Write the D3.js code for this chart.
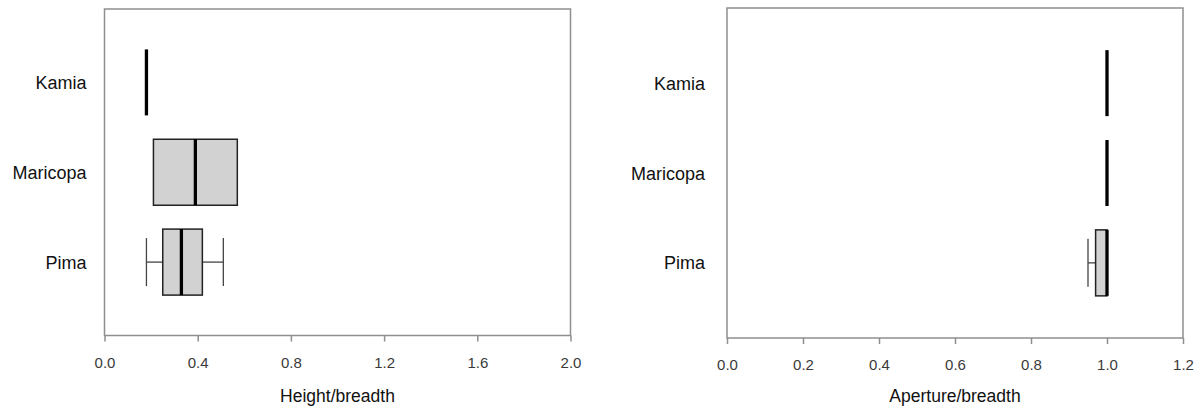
<!DOCTYPE html>
<html>
<head>
<meta charset="utf-8">
<script src="https://cdn.jsdelivr.net/npm/d3@7/dist/d3.min.js"></script>
<style>
  html, body { margin: 0; padding: 0; background: #fff; }
  svg { display: block; font-family: "Liberation Sans", Arial, Helvetica, sans-serif; }
</style>
</head>
<body>
<svg id="chart" width="1204" height="411"></svg>
<script>
// ---- data ----
const categories = ["Kamia", "Maricopa", "Pima"];
// five-number summaries: [min, q1, median, q3, max]
const heightBreadth = [
  [0.18, 0.18, 0.18, 0.18, 0.18],
  [0.21, 0.21, 0.39, 0.57, 0.57],
  [0.18, 0.25, 0.33, 0.42, 0.51]
];
const apertureBreadth = [
  [1.0, 1.0, 1.0, 1.0, 1.0],
  [1.0, 1.0, 1.0, 1.0, 1.0],
  [0.95, 0.97, 1.0, 1.0, 1.0]
];
const heightTicks = [0.0, 0.4, 0.8, 1.2, 1.6, 2.0];
const apertureTicks = [0.0, 0.2, 0.4, 0.6, 0.8, 1.0, 1.2];
const heightTitle = "Height/breadth";
const apertureTitle = "Aperture/breadth";

const svg = d3.select("#chart");

function panel(opts) {
  const { left, right, top, bottom, domain, ticks, stats, title, labelGap } = opts;
  const g = svg.append("g");
  const x = d3.scaleLinear().domain(domain).range([left, right]);
  const y = d3.scalePoint().domain(categories).range([top, bottom]).padding(opts.pad);
  const boxH = 66, capH = 48;

  // frame
  g.append("rect")
    .attr("x", left).attr("y", top)
    .attr("width", right - left).attr("height", bottom - top)
    .attr("fill", "none").attr("stroke", "#8f8f8f").attr("stroke-width", 1.5);

  // x axis
  const ax = g.append("g")
    .attr("transform", `translate(0,${bottom})`)
    .call(d3.axisBottom(x).tickValues(ticks).tickFormat(d3.format(".1f"))
      .tickSize(6).tickPadding(15.5));
  ax.select(".domain").remove();
  ax.selectAll(".tick line").attr("stroke", "#8f8f8f").attr("stroke-width", 1.5);
  ax.selectAll(".tick text").attr("fill", "#3a3a3a").style("font-size", "15px");

  // axis title
  g.append("text")
    .attr("x", (left + right) / 2).attr("y", 401.5)
    .attr("text-anchor", "middle")
    .attr("fill", "#111")
    .style("font-size", "17.5px")
    .text(title);

  // category labels
  g.selectAll(".cat").data(categories).join("text")
    .attr("x", left - labelGap)
    .attr("y", d => y(d) + 6.5)
    .attr("text-anchor", "end")
    .attr("fill", "#111")
    .style("font-size", "18px")
    .text(d => d);

  // boxes
  categories.forEach((c, i) => {
    const [mn, q1, md, q3, mx] = stats[i];
    const cy = y(c);
    const bg = g.append("g");
    // whiskers
    if (mn < q1) {
      bg.append("line").attr("x1", x(mn)).attr("x2", x(q1)).attr("y1", cy).attr("y2", cy)
        .attr("stroke", "#444").attr("stroke-width", 1.3);
      bg.append("line").attr("x1", x(mn)).attr("x2", x(mn)).attr("y1", cy - capH / 2).attr("y2", cy + capH / 2)
        .attr("stroke", "#444").attr("stroke-width", 1.3);
    }
    if (mx > q3) {
      bg.append("line").attr("x1", x(q3)).attr("x2", x(mx)).attr("y1", cy).attr("y2", cy)
        .attr("stroke", "#444").attr("stroke-width", 1.3);
      bg.append("line").attr("x1", x(mx)).attr("x2", x(mx)).attr("y1", cy - capH / 2).attr("y2", cy + capH / 2)
        .attr("stroke", "#444").attr("stroke-width", 1.3);
    }
    // box
    if (q3 > q1) {
      bg.append("rect")
        .attr("x", x(q1)).attr("y", cy - boxH / 2)
        .attr("width", x(q3) - x(q1)).attr("height", boxH)
        .attr("fill", "#d2d2d2").attr("stroke", "#222").attr("stroke-width", 1.5);
    }
    // median
    bg.append("line")
      .attr("x1", x(md)).attr("x2", x(md))
      .attr("y1", cy - boxH / 2).attr("y2", cy + boxH / 2)
      .attr("stroke", "#000").attr("stroke-width", 3.3);
  });
}

panel({ left: 104.5, right: 570.5, top: 9, bottom: 335.5, pad: 0.817,
        domain: [0, 2.0], ticks: heightTicks, stats: heightBreadth,
        title: heightTitle, labelGap: 18 });
panel({ left: 727, right: 1183, top: 8, bottom: 338, pad: 0.836,
        domain: [0, 1.2], ticks: apertureTicks, stats: apertureBreadth,
        title: apertureTitle, labelGap: 22 });
</script>
</body>
</html>
